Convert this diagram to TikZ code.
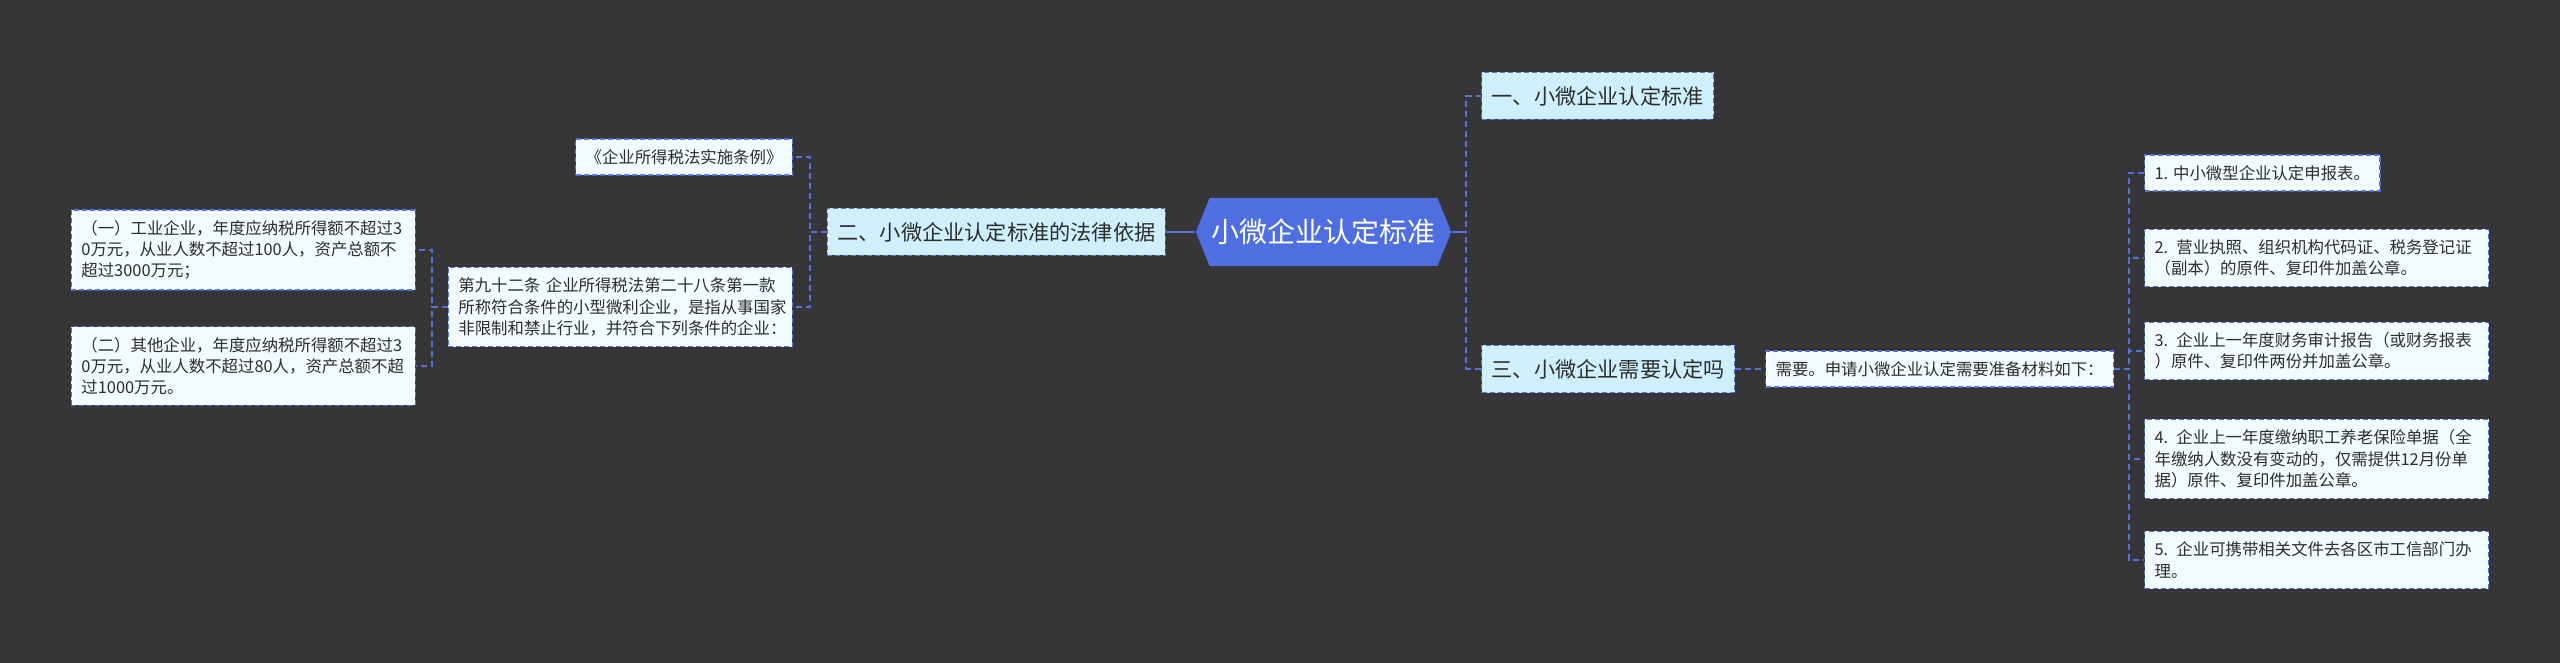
\documentclass[tikz,border=0pt]{standalone}
\usepackage{fontspec}
\setmainfont{Noto Sans CJK SC}
\usetikzlibrary{shapes.symbols,calc}
\definecolor{bgdark}{RGB}{54,53,56}
\definecolor{rootblue}{RGB}{79,111,224}
\definecolor{linkblue}{RGB}{86,114,214}
\definecolor{branchfill}{RGB}{207,239,253}
\definecolor{leaffill}{RGB}{242,251,255}
\definecolor{inkgray}{RGB}{45,45,45}
\tikzset{
  link/.style={draw=linkblue, line width=1pt, dash pattern=on 3pt off 2pt},
  rootlink/.style={draw=linkblue, line width=1.1pt},
  fork/.style={to path={-| ($(\tikztostart)!0.5!(\tikztotarget)$) |- (\tikztotarget)}},
  box/.style={draw=linkblue, line width=0.6pt, dash pattern=on 2.5pt off 1.5pt, text=inkgray, align=left},
  branch/.style={box, fill=branchfill, font=\fontsize{10.6}{13}\selectfont, inner xsep=5pt, minimum height=23.5pt},
  leaf/.style={box, fill=leaffill, font=\fontsize{8.2}{10.65}\selectfont, inner xsep=5pt, inner ysep=5.2pt},
  wide/.style={leaf, text width=162pt},
}
\begin{document}
\begin{tikzpicture}[x=0.5pt, y=-0.5pt]
  \useasboundingbox[fill=bgdark] (0,0) rectangle (2560,663);
  \node[signal, signal to=east and west, signal pointer angle=136, fill=rootblue, text=white,
        font=\fontsize{14}{16}\selectfont, minimum width=126.5pt, minimum height=34pt, inner xsep=1pt] (root) at (1323.5,232) {小微企业认定标准};
  \node[branch, anchor=west] (b1) at (1481,96) {一、小微企业认定标准};
  \node[branch, anchor=east] (b2) at (1166,232) {二、小微企业认定标准的法律依据};
  \node[branch, anchor=west] (b3) at (1481,369) {三、小微企业需要认定吗};
  \draw[rootlink] (root.west) -- (b2.east);
  \draw[link] (root.east) to[fork] (b1.west);
  \draw[link] (root.east) to[fork] (b3.west);
  \draw[rootlink] (root.east) -- ++(15.5,0);

  \node[leaf, anchor=west] (need) at (1765,369) {需要。申请小微企业认定需要准备材料如下：};
  \draw[link] (b3.east) -- (need.west);
  \node[leaf, anchor=west] (m1) at (2144,173) {1. 中小微型企业认定申报表。};
  \draw[link] (need.east) to[fork] (m1.west);
  \foreach \n/\y/\t in {m2/258/{2. 营业执照、组织机构代码证、税务登记证\\（副本）的原件、复印件加盖公章。},
                        m3/351/{3. 企业上一年度财务审计报告（或财务报表\\）原件、复印件两份并加盖公章。},
                        m4/459/{4. 企业上一年度缴纳职工养老保险单据（全\\年缴纳人数没有变动的，仅需提供12月份单\\据）原件、复印件加盖公章。},
                        m5/560/{5. 企业可携带相关文件去各区市工信部门办\\理。}} {
    \node[wide, anchor=west] (\n) at (2144,\y) {\t};
    \draw[link] (need.east) to[fork] (\n.west);
  }

  \node[leaf, anchor=east] (book) at (793,157) {《企业所得税法实施条例》};
  \node[wide, anchor=east] (art) at (793,307) {第九十二条 企业所得税法第二十八条第一款\\所称符合条件的小型微利企业，是指从事国家\\非限制和禁止行业，并符合下列条件的企业：};
  \draw[link] (b2.west) to[fork] (book.east);
  \draw[link] (b2.west) to[fork] (art.east);
  \foreach \n/\y/\t in {c1/250/{（一）工业企业，年度应纳税所得额不超过3\\0万元，从业人数不超过100人，资产总额不\\超过3000万元；},
                        c2/366/{（二）其他企业，年度应纳税所得额不超过3\\0万元，从业人数不超过80人，资产总额不超\\过1000万元。}} {
    \node[wide, anchor=east] (\n) at (416,\y) {\t};
    \draw[link] (art.west) to[fork] (\n.east);
  }
\end{tikzpicture}
\end{document}
